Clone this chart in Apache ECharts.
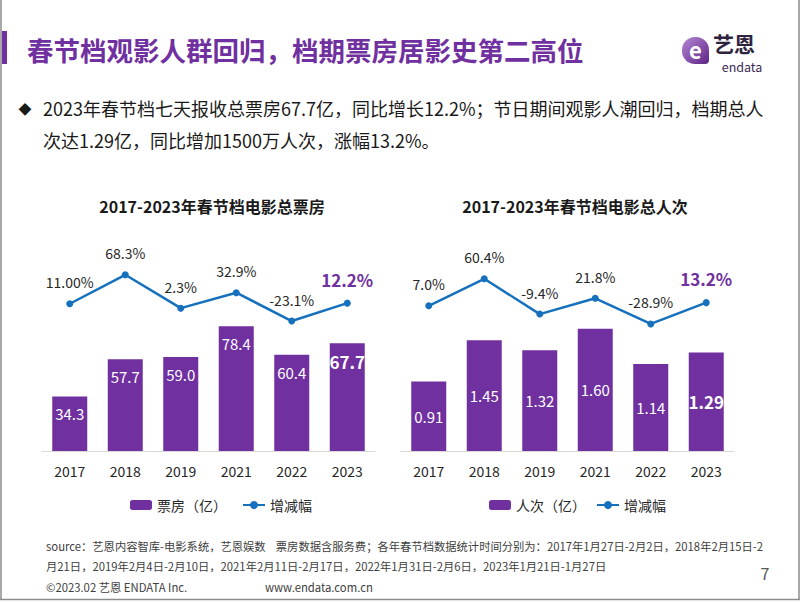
<!DOCTYPE html>
<html><head><meta charset="utf-8">
<script src="https://cdn.jsdelivr.net/npm/echarts@6/dist/echarts.min.js"></script>
<style>html,body{margin:0;padding:0;background:#fff;}#c{width:802px;height:602px;}</style>
</head><body><div id="c"></div>
<script>
// ---- data ----
const years = ['2017','2018','2019','2021','2022','2023'];
const boxOffice = [34.3, 57.7, 59.0, 78.4, 60.4, 67.7];
const boxGrowth = [11.0, 68.3, 2.3, 32.9, -23.1, 12.2];
const boxGrowthLabels = ['11.00%','68.3%','2.3%','32.9%','-23.1%','12.2%'];
const admissions = [0.91, 1.45, 1.32, 1.60, 1.14, 1.29];
const admGrowth = [7.0, 60.4, -9.4, 21.8, -28.9, 13.2];
const admGrowthLabels = ['7.0%','60.4%','-9.4%','21.8%','-28.9%','13.2%'];
const pageTitle = '春节档观影人群回归，档期票房居影史第二高位';
const bulletLine1 = '2023年春节档七天报收总票房67.7亿，同比增长12.2%；节日期间观影人潮回归，档期总人';
const bulletLine2 = '次达1.29亿，同比增加1500万人次，涨幅13.2%。';
const chartTitleL = '2017-2023年春节档电影总票房';
const chartTitleR = '2017-2023年春节档电影总人次';
const footer1 = 'source：艺恩内容智库-电影系统，艺恩娱数    票房数据含服务费；各年春节档数据统计时间分别为：2017年1月27日-2月2日，2018年2月15日-2';
const footer2 = '月21日，2019年2月4日-2月10日，2021年2月11日-2月17日，2022年1月31日-2月6日，2023年1月21日-1月27日';
const footer3a = '©2023.02 艺恩 ENDATA Inc.';
const footer3b = 'www.endata.com.cn';

const FONT = "'Noto Sans CJK SC','Noto Sans',sans-serif";
const PURPLE = '#7030A0';
const BLUE = '#1570BE';
const TXT = '#262626';

const chart = echarts.init(document.getElementById('c'), null, {renderer:'svg', width:802, height:602});

function barData(vals, hiSize) {
  return vals.map((v, i) => i === vals.length - 1
    ? {value: v, label: {fontWeight: 'bold', fontSize: hiSize}}
    : v);
}
function lineData(vals) {
  return vals.map((v, i) => i === vals.length - 1
    ? {value: v, label: {fontWeight: 'bold', fontSize: 17, color: PURPLE, distance: 12}}
    : v);
}

function txt(x, y, text, size, opts) {
  opts = opts || {};
  return {type:'text', x:x, y:y, silent:true, style:{
    text:text, fill:opts.fill || TXT, fontSize:size, fontWeight:opts.weight || 'normal',
    fontFamily:FONT, textAlign:opts.align || 'left', textVerticalAlign:'middle'}};
}

const option = {
  animation:false,
  textStyle:{fontFamily:FONT},
  grid:[
    {left:42, width:333, top:260, height:191},
    {left:401, width:333, top:260, height:191}
  ],
  xAxis:[
    {type:'category', gridIndex:0, data:years, axisTick:{show:false},
     axisLine:{lineStyle:{color:'#d9d9d9'}}, axisLabel:{color:TXT, fontSize:14, margin:13}},
    {type:'category', gridIndex:1, data:years, axisTick:{show:false},
     axisLine:{lineStyle:{color:'#d9d9d9'}}, axisLabel:{color:TXT, fontSize:14, margin:13}}
  ],
  yAxis:[
    {type:'value', gridIndex:0, min:0, max:120, show:false, splitLine:{show:false}},
    {type:'value', gridIndex:0, min:-280, max:97.5, show:false, splitLine:{show:false}},
    {type:'value', gridIndex:1, min:0, max:2.5, show:false, splitLine:{show:false}},
    {type:'value', gridIndex:1, min:-280, max:97.5, show:false, splitLine:{show:false}}
  ],
  legend:[
    {data:['票房（亿）','增减幅'], left:125, top:493, itemWidth:22, itemHeight:10, itemGap:15,
     textStyle:{color:TXT, fontSize:14, fontFamily:FONT}},
    {data:['人次（亿）','增减幅'], left:484, top:493, itemWidth:22, itemHeight:10, itemGap:10,
     textStyle:{color:TXT, fontSize:14, fontFamily:FONT}}
  ],
  series:[
    {type:'bar', name:'票房（亿）', xAxisIndex:0, yAxisIndex:0, barWidth:35,
     itemStyle:{color:PURPLE},
     label:{show:true, position:'insideTop', distance:10, color:'#fff', fontSize:15,
       formatter:p => p.value.toFixed(1)},
     data:barData(boxOffice, 17)},
    {type:'line', name:'增减幅', xAxisIndex:0, yAxisIndex:1,
     lineStyle:{color:BLUE, width:2.5}, itemStyle:{color:BLUE},
     symbol:'circle', symbolSize:7,
     label:{show:true, position:'top', distance:11, color:TXT, fontSize:14,
       formatter:p => boxGrowthLabels[p.dataIndex]},
     data:lineData(boxGrowth)},
    {type:'bar', name:'人次（亿）', xAxisIndex:1, yAxisIndex:2, barWidth:35,
     itemStyle:{color:PURPLE},
     label:{show:true, position:'inside', color:'#fff', fontSize:15,
       formatter:p => p.value.toFixed(2)},
     data:barData(admissions, 17)},
    {type:'line', name:'增减幅', xAxisIndex:1, yAxisIndex:3,
     lineStyle:{color:BLUE, width:2.5}, itemStyle:{color:BLUE},
     symbol:'circle', symbolSize:7,
     label:{show:true, position:'top', distance:11, color:TXT, fontSize:14,
       formatter:p => admGrowthLabels[p.dataIndex]},
     data:lineData(admGrowth)}
  ],
  graphic:[
    // frame
    {type:'line', silent:true, shape:{x1:1, y1:0, x2:1, y2:600}, style:{stroke:'#8c8c8c', lineWidth:1.5}},
    {type:'line', silent:true, shape:{x1:799, y1:0, x2:799, y2:600}, style:{stroke:'#8c8c8c', lineWidth:1.5}},
    {type:'line', silent:true, shape:{x1:0, y1:599.5, x2:800, y2:599.5}, style:{stroke:'#8c8c8c', lineWidth:1.5}},
    // title bar
    {type:'rect', silent:true, shape:{x:2, y:31, width:5, height:33}, style:{fill:PURPLE}},
    txt(27, 49, pageTitle, 26.5, {fill:PURPLE, weight:'bold'}),
    // logo
    {type:'rect', silent:true, shape:{x:682, y:37, width:27, height:27, r:[13,13,4,13]},
     style:{fill:new echarts.graphic.LinearGradient(0,0,1,1,[{offset:0,color:'#b58ad6'},{offset:1,color:'#5e2386'}])}},
    txt(695.5, 49, 'e', 22, {fill:'#fff', weight:'bold', align:'center'}),
    txt(734, 43, '艺恩', 21, {fill:'#2e2440', weight:'bold', align:'center'}),
    txt(742, 66, 'endata', 12.5, {fill:'#3b2a55', align:'center'}),
    // bullet
    txt(25, 108, '◆', 13, {fill:'#1a1a1a', align:'center'}),
    txt(43, 108, bulletLine1, 18, {fill:'#1a1a1a'}),
    txt(43, 140, bulletLine2, 18, {fill:'#1a1a1a'}),
    // chart titles
    txt(212, 206, chartTitleL, 16, {fill:'#1a1a1a', weight:'bold', align:'center'}),
    txt(575, 206, chartTitleR, 16, {fill:'#1a1a1a', weight:'bold', align:'center'}),
    // footer
    txt(46, 546, footer1, 11.3, {fill:'#404040'}),
    txt(46, 566, footer2, 11.3, {fill:'#404040'}),
    txt(46, 587, footer3a, 11.3, {fill:'#404040'}),
    txt(265, 587, footer3b, 11.3, {fill:'#404040'}),
    txt(765, 573, '7', 16, {fill:'#595959', align:'center'})
  ]
};
chart.setOption(option);
</script></body></html>
